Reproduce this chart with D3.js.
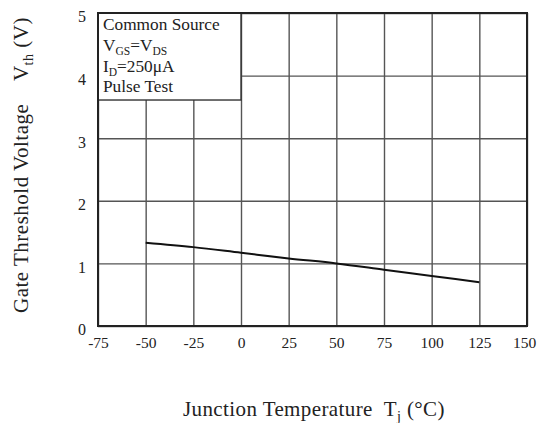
<!DOCTYPE html>
<html>
<head>
<meta charset="utf-8">
<script src="https://cdn.jsdelivr.net/npm/d3@7"></script>
<style>
  body { margin: 0; background: #fff; }
  text { font-family: "Liberation Serif", "Times New Roman", serif; fill: #222; }
</style>
</head>
<body>
<script>
// tick values
const xTicks = [-75, -50, -25, 0, 25, 50, 75, 100, 125, 150];
const yTicks = [0, 1, 2, 3, 4, 5];

// Vth vs junction temperature
const temps = [-50, -25, 0, 25, 50, 75, 100, 125];
const vth = [1.33, 1.26, 1.17, 1.08, 1.0, 0.9, 0.8, 0.7];

const margin = { top: 13, right: 10, bottom: 97, left: 98 },
  width = 537 - margin.left - margin.right,
  height = 423 - margin.top - margin.bottom;

const svg = d3.select("body").append("svg")
  .attr("width", 537)
  .attr("height", 423);

const g = svg.append("g")
  .attr("transform", `translate(${margin.left},${margin.top})`);

const x = d3.scaleLinear().domain([-75, 150]).range([0, width]);
const y = d3.scaleLinear().domain([0, 5]).range([height, 0]);

// grid
g.append("g")
  .attr("transform", `translate(0,${height})`)
  .call(d3.axisBottom(x).tickValues(xTicks).tickSize(-height).tickFormat(""))
  .call(a => a.select(".domain").remove())
  .call(a => a.selectAll("line").attr("stroke", "#555").attr("stroke-width", 1.4));

g.append("g")
  .call(d3.axisLeft(y).tickValues(yTicks).tickSize(-width).tickFormat(""))
  .call(a => a.select(".domain").remove())
  .call(a => a.selectAll("line").attr("stroke", "#555").attr("stroke-width", 1.4));

// tick labels
g.append("g")
  .attr("transform", `translate(0,${height})`)
  .call(d3.axisBottom(x).tickValues(xTicks).tickSize(0).tickPadding(11)
    .tickFormat(d => d < 0 ? "-" + Math.abs(d) : d))
  .call(a => a.select(".domain").remove())
  .call(a => a.selectAll("text")
    .attr("font-family", "Liberation Serif")
    .attr("font-size", 15.5)
    .attr("fill", "#222")
    .attr("dx", d => d === 150 ? -3 : 0));

g.append("g")
  .call(d3.axisLeft(y).tickValues(yTicks).tickSize(0).tickPadding(12).tickFormat(d3.format("d")))
  .call(a => a.select(".domain").remove())
  .call(a => a.selectAll("text")
    .attr("font-family", "Liberation Serif")
    .attr("font-size", 16)
    .attr("fill", "#222")
    .attr("dy", "0.55em"));

// legend box
const boxBottom = 3.61;
g.append("rect")
  .attr("x", x(-75))
  .attr("y", y(5))
  .attr("width", x(0) - x(-75))
  .attr("height", y(boxBottom) - y(5))
  .attr("fill", "#fff")
  .attr("stroke", "#333")
  .attr("stroke-width", 1.4);

const leg = g.append("text")
  .attr("font-size", 17.3);
const lx = x(-75) + 5;
const ly = [17, 38, 59, 79];

leg.append("tspan").attr("x", lx).attr("y", ly[0]).text("Common Source");

leg.append("tspan").attr("x", lx).attr("y", ly[1]).text("V");
leg.append("tspan").attr("font-size", 11.5).attr("dy", 4).text("GS");
leg.append("tspan").attr("dy", -4).text("=V");
leg.append("tspan").attr("font-size", 11.5).attr("dy", 4).text("DS");

leg.append("tspan").attr("x", lx).attr("y", ly[2]).text("I");
leg.append("tspan").attr("font-size", 11.5).attr("dy", 4).text("D");
leg.append("tspan").attr("dy", -4).text("=250μA");

leg.append("tspan").attr("x", lx).attr("y", ly[3]).text("Pulse Test");

// frame
g.append("rect")
  .attr("width", width)
  .attr("height", height)
  .attr("fill", "none")
  .attr("stroke", "#222")
  .attr("stroke-width", 2);

// curve
const line = d3.line()
  .x((d, i) => x(temps[i]))
  .y(d => y(d))
  .curve(d3.curveMonotoneX);

g.append("path")
  .datum(vth)
  .attr("fill", "none")
  .attr("stroke", "#111")
  .attr("stroke-width", 2)
  .attr("d", line);

// x title
const xt = svg.append("text")
  .attr("x", 183)
  .attr("y", 416)
  .attr("font-size", 21)
  .attr("letter-spacing", 0.4)
  .attr("xml:space", "preserve");
xt.append("tspan").text("Junction Temperature  T");
xt.append("tspan").attr("font-size", 14).attr("dy", 5).text("j");
xt.append("tspan").attr("dy", -5).text(" (°C)");

// y title
const yt = svg.append("text")
  .attr("transform", "rotate(-90)")
  .attr("x", -313)
  .attr("y", 28)
  .attr("font-size", 21)
  .attr("letter-spacing", 0.5)
  .attr("xml:space", "preserve");
yt.append("tspan").text("Gate Threshold Voltage    V");
yt.append("tspan").attr("font-size", 14).attr("dy", 5).text("th");
yt.append("tspan").attr("dy", -5).text(" (V)");
</script>
</body>
</html>
